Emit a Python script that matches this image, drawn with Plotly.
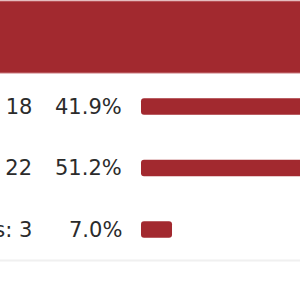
import plotly.graph_objects as go

labels = ["Yes", "No", "Abstentions"]
counts = [18, 22, 3]
percents = [41.9, 51.2, 7.0]
pct_text = ["41.9%", "51.2%", "7.0%"]

RED = "#A2292F"
TXT = "#2b2b2b"
FONT = "DejaVu Sans"

rows = list(range(len(labels)))

fig = go.Figure()
fig.add_trace(go.Bar(
    x=percents, y=rows, orientation="h", base=0,
    marker=dict(color=RED, line=dict(width=0)),
    width=0.265, hoverinfo="skip", showlegend=False,
))

# pixel mapping: x_px = 141 + 4.43 * pct ; y_px = 106.5 + 61.5 * row
xr = [-141 / 4.43, (300 - 141) / 4.43]
yr = [(300 - 106.5) / 61.5, -106.5 / 61.5]

for i, (lab, c, p) in enumerate(zip(labels, counts, pct_text)):
    fig.add_annotation(x=34 / 300, xref="paper", y=i, yref="y",
                       text=f"{lab}: {c}", showarrow=False, xanchor="right",
                       yanchor="middle", font=dict(family=FONT, size=21, color=TXT))
    fig.add_annotation(x=124 / 300, xref="paper", y=i, yref="y",
                       text=p, showarrow=False, xanchor="right",
                       yanchor="middle", font=dict(family=FONT, size=21, color=TXT))

# header band
fig.add_shape(type="rect", xref="paper", yref="paper", x0=-0.01, x1=1.01,
              y0=1 - 73 / 300, y1=1 - 1 / 300, fillcolor=RED,
              line=dict(color="#c9787c", width=1), layer="below")
# separator line
fig.add_shape(type="line", xref="paper", yref="paper", x0=0, x1=1,
              y0=1 - 260.5 / 300, y1=1 - 260.5 / 300,
              line=dict(color="#f0f0f0", width=2))

fig.update_layout(
    width=300, height=300, margin=dict(l=0, r=0, t=0, b=0),
    paper_bgcolor="white", plot_bgcolor="white",
    barcornerradius=3,
    xaxis=dict(range=xr, visible=False, fixedrange=True),
    yaxis=dict(range=yr, visible=False, fixedrange=True),
)

fig.write_html("out.html", config={"displayModeBar": False})
